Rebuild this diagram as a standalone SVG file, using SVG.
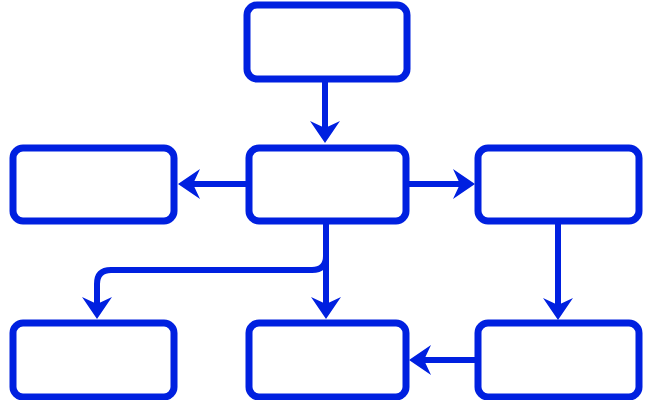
<svg xmlns="http://www.w3.org/2000/svg" width="650" height="400" viewBox="0 0 650 400">
  <style>
    .box { fill: #ffffff; stroke: #0020e0; stroke-width: 7; }
    .conn { fill: none; stroke: #0020e0; stroke-width: 6; }
  </style>
  <defs>
    <marker id="arrow" markerUnits="userSpaceOnUse" markerWidth="26" markerHeight="34" refX="9" refY="16" orient="auto">
      <path d="M0,1 L22,16 L0,31 L7,16 Z" fill="#0020e0"/>
    </marker>
  </defs>
  <rect width="650" height="400" fill="#ffffff"/>
  <g id="connectors">
    <path class="conn" d="M325,80 L325,130" marker-end="url(#arrow)"/>
    <path class="conn" d="M246,184 L191,184" marker-end="url(#arrow)"/>
    <path class="conn" d="M408,184 L462,184" marker-end="url(#arrow)"/>
    <path class="conn" d="M326,222 L326,306" marker-end="url(#arrow)"/>
    <path class="conn" d="M326,256 Q326,270 312,270 L111,270 Q97,270 97,284 L97,306" marker-end="url(#arrow)"/>
    <path class="conn" d="M558,222 L558,307" marker-end="url(#arrow)"/>
    <path class="conn" d="M477,360 L422,360" marker-end="url(#arrow)"/>
  </g>
  <g id="node-top"><rect class="box" x="247" y="5" width="160" height="74" rx="10"/></g>
  <g id="node-mid-left"><rect class="box" x="13" y="148" width="161" height="73" rx="10"/></g>
  <g id="node-mid-center"><rect class="box" x="249" y="148" width="157" height="73" rx="10"/></g>
  <g id="node-mid-right"><rect class="box" x="478" y="148" width="161" height="73" rx="10"/></g>
  <g id="node-bot-left"><rect class="box" x="13" y="323" width="161" height="74" rx="10"/></g>
  <g id="node-bot-center"><rect class="box" x="249" y="323" width="157" height="74" rx="10"/></g>
  <g id="node-bot-right"><rect class="box" x="478" y="323" width="161" height="74" rx="10"/></g>
</svg>
